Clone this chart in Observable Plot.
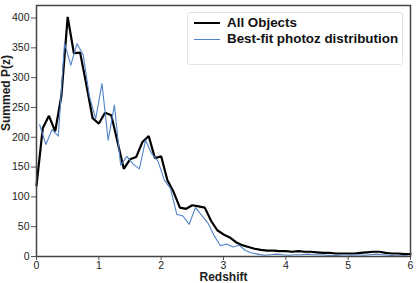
<!DOCTYPE html>
<html><head><meta charset="utf-8">
<script src="https://cdn.jsdelivr.net/npm/d3@7"></script>
<script src="https://cdn.jsdelivr.net/npm/@observablehq/plot@0.6"></script>
<style>
body{margin:0;background:#fff;font-family:"Liberation Sans",Arial,Helvetica,sans-serif;}
#wrap{position:relative;width:416px;height:283px;}
#legend{position:absolute;left:187px;top:12px;width:216px;height:53px;border:1px solid #e2e2e2;border-radius:3px;background:#fff;box-sizing:border-box;}
.item{position:absolute;left:0;height:16px;width:214px;}
.sw{position:absolute;left:6px;width:26px;top:8px;}
.lab{position:absolute;left:39px;top:0;font-weight:bold;font-size:13.4px;line-height:16px;color:#111;white-space:nowrap;}
</style></head>
<body>
<div id="wrap"></div>
<script>
const zAll = [0.0,0.1,0.2,0.3,0.4,0.5,0.6,0.7,0.8,0.9,1.0,1.1,1.2,1.3,1.4,1.5,1.6,1.7,1.8,1.9,2.0,2.1,2.2,2.3,2.4,2.5,2.6,2.7,2.8,2.9,3.0,3.1,3.2,3.3,3.4,3.5,3.6,3.7,3.8,3.9,4.0,4.1,4.2,4.3,4.4,4.5,4.6,4.7,4.8,4.9,5.0,5.1,5.2,5.3,5.4,5.5,5.6,5.7,5.8,5.9,6.0];
const allObjects = [119,215,236,210,270,402,341,342,288,232,223,241,237,192,147,163,167,192,202,165,168,128,108,82,80,86,84,82,60,44,37,32,24,19,16,13,11,10,10,9,9,8,9,8,8,7,6,6,5,5,5,5,6,7,8,8,6,5,5,4,4];
const zFit = [0.05,0.15,0.25,0.35,0.45,0.55,0.65,0.75,0.85,0.95,1.05,1.15,1.25,1.35,1.45,1.55,1.65,1.75,1.85,1.95,2.05,2.15,2.25,2.35,2.45,2.55,2.65,2.75,2.85,2.95,3.05,3.15,3.25,3.35,3.45,3.55,3.65,3.75,3.85,3.95,4.05,4.15,4.25,4.35,4.45,4.55,4.65,4.75,4.85,4.95,5.05,5.15,5.25,5.35,5.45,5.55,5.65,5.75,5.85,5.95];
const bestFit = [221,188,213,202,358,321,357,338,268,231,290,195,254,153,168,155,147,195,172,160,128,114,71,68,54,82,69,56,35,18,21,16,19,10,6,4,2,3,4,3,2,3,3,4,3,3,2,1,2,3,2,3,2,3,4,3,2,1,1,1];
const xTicks = [0,1,2,3,4,5,6];
const yTicks = [0,50,100,150,200,250,300,350,400];
const seriesNames = ["All Objects","Best-fit photoz distribution"];
const seriesColors = ["#000000","#4f83c9"];
const xLabel = "Redshift";
const yLabel = "Summed P(z)";

const blackData = zAll.map((z,i)=>({z, v: allObjects[i]}));
const blueData = zFit.map((z,i)=>({z, v: bestFit[i]}));

const chart = Plot.plot({
  width: 416, height: 283,
  marginLeft: 36, marginRight: 6, marginTop: 5, marginBottom: 27,
  style: {fontFamily: '"Liberation Sans", Arial, sans-serif', fontSize: "10.5px", color: "#222", background: "#fff"},
  x: {domain: [0, 6]},
  y: {domain: [0, 421]},
  marks: [
    Plot.axisX({ticks: xTicks, tickFormat: d => String(d), tickSize: 4, tickPadding: 1, label: null, stroke: "#555"}),
    Plot.axisY({ticks: yTicks, tickFormat: d => String(d), tickSize: 5, tickPadding: 2, label: null, stroke: "#555"}),
    Plot.line(blackData, {x: "z", y: "v", stroke: seriesColors[0], strokeWidth: 2.2, strokeLinejoin: "miter"}),
    Plot.line(blueData, {x: "z", y: "v", stroke: seriesColors[1], strokeWidth: 1.1}),
    Plot.frame({stroke: "#444", strokeWidth: 1.5}),
    Plot.text([xLabel], {text: d => d, frameAnchor: "bottom", dy: 21, lineAnchor: "middle", fontWeight: "bold", fontSize: 12, fill: "#222"}),
    Plot.text([yLabel], {text: d => d, frameAnchor: "left", dx: -30.5, rotate: -90, lineAnchor: "middle", fontWeight: "bold", fontSize: 12, fill: "#222"})
  ]
});
const wrap = document.getElementById("wrap");
wrap.appendChild(chart);

const legend = document.createElement("div");
legend.id = "legend";
seriesNames.forEach((name, i) => {
  const item = document.createElement("div");
  item.className = "item";
  item.style.top = (2 + i*16) + "px";
  const sw = document.createElement("div");
  sw.className = "sw";
  sw.style.borderTop = (i === 0 ? "2px" : "1.2px") + " solid " + seriesColors[i];
  sw.style.top = (i === 0 ? 7 : 8) + "px";
  const lab = document.createElement("div");
  lab.className = "lab";
  lab.textContent = name;
  item.appendChild(sw); item.appendChild(lab);
  legend.appendChild(item);
});
wrap.appendChild(legend);
</script>
</body></html>
